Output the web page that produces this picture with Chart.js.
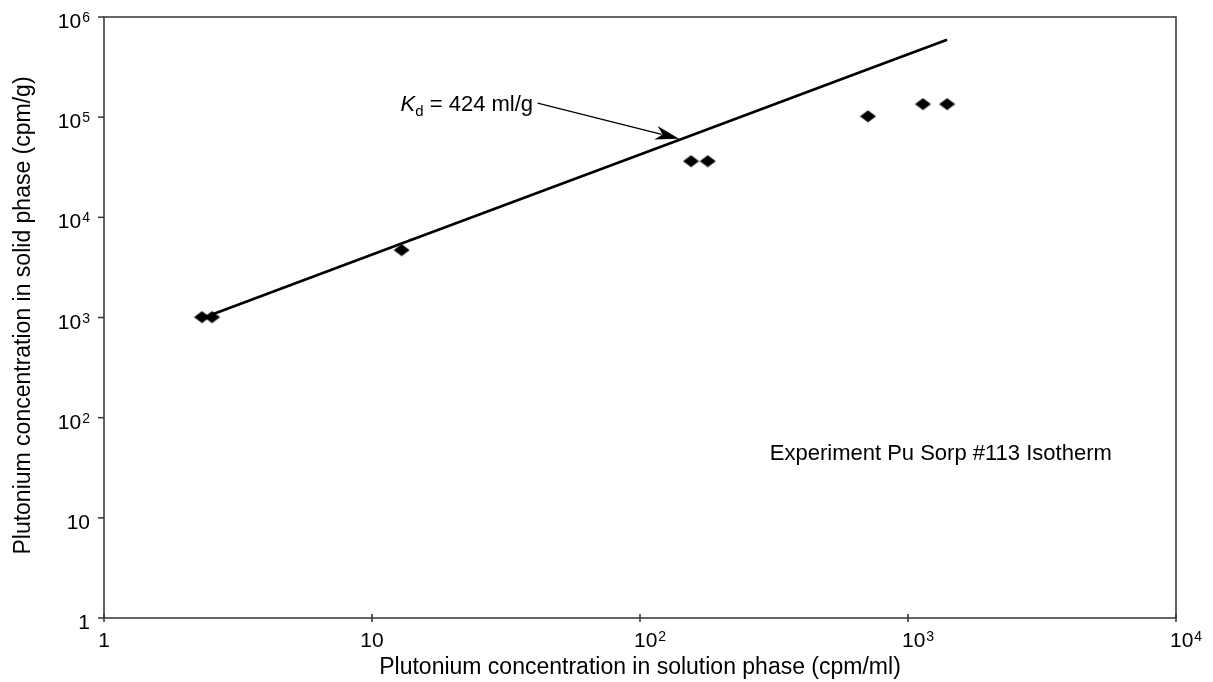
<!DOCTYPE html>
<html><head><meta charset="utf-8">
<script src="https://cdn.jsdelivr.net/npm/chart.js@4.4.1/dist/chart.umd.min.js"></script>
<style>html,body{margin:0;padding:0;background:#fff;}#wrap{width:1213px;height:682px;}</style>
</head><body><div id="wrap"><canvas id="c" width="1213" height="682"></canvas></div>
<script>
// ---- data ----
const pointX = [2.32, 2.53, 12.9, 155, 179, 709, 1137, 1399];
const pointY = [1010, 1010, 4710, 36400, 36400, 102000, 135000, 135000];
const lineX = [2.53, 12.9, 167, 709, 1137, 1399];
const lineY = [1070, 5470, 70800, 300600, 482000, 593000];
const xTickValues = [1, 10, 100, 1000, 10000];
const xTickBase = ['1', '10', '10', '10', '10'];
const xTickExp = ['', '', '2', '3', '4'];
const yTickValues = [1, 10, 100, 1000, 10000, 100000, 1000000];
const yTickBase = ['1', '10', '10', '10', '10', '10', '10'];
const yTickExp = ['', '', '2', '3', '4', '5', '6'];
const xTitle = 'Plutonium concentration in solution phase (cpm/ml)';
const yTitle = 'Plutonium concentration in solid phase (cpm/g)';
const noteText = 'Experiment Pu Sorp #113 Isotherm';
const noteAt = [305, 38];
const kdSymbol = 'K', kdSub = 'd', kdRest = ' = 424 ml/g';
const kdTextEnd = [39.9, 138000];
const kdArrowTail = [41.5, 138000];
const kdArrowTip = [140, 61000];

const FONT = '"Liberation Sans", Arial, Helvetica, sans-serif';

// diamond marker (slightly flattened)
const diamond = document.createElement('canvas');
diamond.width = 17; diamond.height = 13;
(function () {
  const g = diamond.getContext('2d');
  g.fillStyle = '#000';
  g.beginPath();
  g.moveTo(0.5, 6.5); g.lineTo(8.5, 0.5); g.lineTo(16.5, 6.5); g.lineTo(8.5, 12.5);
  g.closePath(); g.fill();
})();

function drawSup(ctx, base, exp, x, y, align) {
  ctx.font = '21px ' + FONT;
  const wb = ctx.measureText(base).width;
  ctx.font = '14px ' + FONT;
  const we = exp ? ctx.measureText(exp).width + 1 : 0;
  let left;
  if (align === 'right') left = x - wb - we;
  else if (align === 'center') left = x - (wb + we) / 2;
  else left = x;
  ctx.textAlign = 'left';
  ctx.textBaseline = 'alphabetic';
  ctx.font = '21px ' + FONT;
  ctx.fillText(base, left, y);
  if (exp) {
    ctx.font = '14px ' + FONT;
    ctx.fillText(exp, left + wb + 1, y - 6);
  }
}

const deco = {
  id: 'deco',
  afterDraw(chart) {
    const { ctx, chartArea: a, scales: { x, y } } = chart;
    ctx.save();
    ctx.fillStyle = '#000';
    ctx.strokeStyle = '#333';
    ctx.lineWidth = 1.5;
    ctx.strokeRect(a.left, a.top, a.right - a.left, a.bottom - a.top);
    // y ticks & labels
    yTickValues.forEach((v, i) => {
      const py = y.getPixelForValue(v);
      ctx.beginPath(); ctx.moveTo(a.left - 6, py); ctx.lineTo(a.left, py); ctx.stroke();
      drawSup(ctx, yTickBase[i], yTickExp[i], a.left - 14, py + 11, 'right');
    });
    // x ticks & labels
    xTickValues.forEach((v, i) => {
      const px = x.getPixelForValue(v);
      ctx.beginPath(); ctx.moveTo(px, a.bottom - 4); ctx.lineTo(px, a.bottom + 4); ctx.stroke();
      if (xTickExp[i]) drawSup(ctx, xTickBase[i], xTickExp[i], px - 6, a.bottom + 29, 'left');
      else drawSup(ctx, xTickBase[i], '', px, a.bottom + 29, 'center');
    });
    // axis titles
    ctx.font = '23px ' + FONT;
    ctx.textAlign = 'center';
    ctx.textBaseline = 'alphabetic';
    ctx.fillText(xTitle, (a.left + a.right) / 2, a.bottom + 56);
    ctx.save();
    ctx.translate(30, (a.top + a.bottom) / 2 - 2);
    ctx.rotate(-Math.PI / 2);
    ctx.fillText(yTitle, 0, 0);
    ctx.restore();
    // experiment note
    ctx.font = '22px ' + FONT;
    ctx.textAlign = 'left';
    ctx.fillText(noteText, x.getPixelForValue(noteAt[0]), y.getPixelForValue(noteAt[1]));
    // Kd annotation
    const ex = x.getPixelForValue(kdTextEnd[0]), ey = y.getPixelForValue(kdTextEnd[1]) + 8;
    ctx.font = '22px ' + FONT;
    const wr = ctx.measureText(kdRest).width;
    ctx.font = '15px ' + FONT;
    const ws = ctx.measureText(kdSub).width;
    ctx.font = 'italic 22px ' + FONT;
    const wk = ctx.measureText(kdSymbol).width;
    let sx = ex - wr - ws - wk;
    ctx.fillText(kdSymbol, sx, ey);
    ctx.font = '15px ' + FONT;
    ctx.fillText(kdSub, sx + wk, ey + 5);
    ctx.font = '22px ' + FONT;
    ctx.fillText(kdRest, sx + wk + ws, ey);
    // arrow
    const tx = x.getPixelForValue(kdArrowTail[0]), ty = y.getPixelForValue(kdArrowTail[1]);
    const hx = x.getPixelForValue(kdArrowTip[0]), hy = y.getPixelForValue(kdArrowTip[1]);
    const ang = Math.atan2(hy - ty, hx - tx);
    const L = 24, W = 7;
    const bx = hx - L * Math.cos(ang), by = hy - L * Math.sin(ang);
    ctx.strokeStyle = '#000';
    ctx.lineWidth = 1.3;
    ctx.beginPath(); ctx.moveTo(tx, ty); ctx.lineTo(bx + 6 * Math.cos(ang), by + 6 * Math.sin(ang)); ctx.stroke();
    ctx.beginPath();
    ctx.moveTo(hx, hy);
    ctx.lineTo(bx - W * Math.sin(ang), by + W * Math.cos(ang));
    ctx.lineTo(bx + 7 * Math.cos(ang), by + 7 * Math.sin(ang));
    ctx.lineTo(bx + W * Math.sin(ang), by - W * Math.cos(ang));
    ctx.closePath(); ctx.fill();
    ctx.restore();
  }
};

new Chart(document.getElementById('c'), {
  type: 'scatter',
  data: {
    datasets: [
      {
        type: 'line',
        data: lineX.map((v, i) => ({ x: v, y: lineY[i] })),
        borderColor: '#000', borderWidth: 2.7, pointRadius: 0, fill: false, tension: 0
      },
      {
        type: 'scatter',
        data: pointX.map((v, i) => ({ x: v, y: pointY[i] })),
        pointStyle: diamond, pointRadius: 8, backgroundColor: '#000', borderColor: '#000'
      }
    ]
  },
  options: {
    responsive: false, animation: false, devicePixelRatio: 1,
    layout: { padding: { left: 104, right: 37, top: 17, bottom: 64 } },
    plugins: { legend: { display: false }, tooltip: { enabled: false } },
    scales: {
      x: { type: 'logarithmic', min: 1, max: 10000, display: false },
      y: { type: 'logarithmic', min: 1, max: 1000000, display: false }
    }
  },
  plugins: [deco]
});
</script></body></html>
